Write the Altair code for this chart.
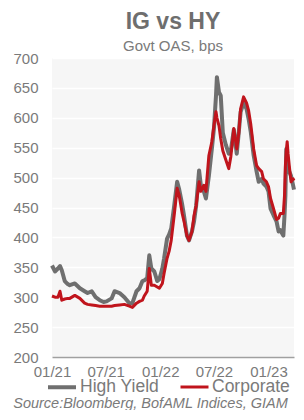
import altair as alt
import pandas as pd

dates = [
    "2021-01-01", "2021-01-11", "2021-01-21", "2021-01-28", "2021-02-03", "2021-02-13",
    "2021-02-23", "2021-03-02", "2021-03-19", "2021-04-05", "2021-04-21", "2021-05-01",
    "2021-05-15", "2021-05-28", "2021-06-11", "2021-06-24", "2021-07-04", "2021-07-21",
    "2021-07-31", "2021-08-17", "2021-09-02", "2021-09-19", "2021-09-29", "2021-10-13",
    "2021-10-23", "2021-11-02", "2021-11-08", "2021-11-18", "2021-11-25", "2021-12-02",
    "2021-12-12", "2021-12-22", "2021-12-29", "2022-01-08", "2022-01-14", "2022-01-24",
    "2022-01-31", "2022-02-07", "2022-02-17", "2022-02-27", "2022-03-06", "2022-03-16",
    "2022-03-22", "2022-04-01", "2022-04-08", "2022-04-18", "2022-04-25", "2022-05-02",
    "2022-05-12", "2022-05-18", "2022-05-28", "2022-06-04", "2022-06-14", "2022-06-24",
    "2022-07-01", "2022-07-08", "2022-07-11", "2022-07-18", "2022-07-24", "2022-07-31",
    "2022-08-10", "2022-08-20", "2022-08-27", "2022-09-06", "2022-09-16", "2022-09-23",
    "2022-09-29", "2022-10-09", "2022-10-19", "2022-10-26", "2022-11-02", "2022-11-12",
    "2022-11-22", "2022-11-29", "2022-12-09", "2022-12-15", "2022-12-25", "2023-01-01",
    "2023-01-08", "2023-01-18", "2023-01-28", "2023-02-04", "2023-02-10", "2023-02-20",
    "2023-02-24", "2023-02-27", "2023-03-02", "2023-03-05", "2023-03-08", "2023-03-12",
    "2023-03-18", "2023-03-25", "2023-03-28",
]

high_yield = [
    353, 343, 348, 352, 345, 327,
    322, 320, 323, 315, 310, 307,
    310, 300, 295, 292, 293, 298,
    310, 307, 300, 290, 290, 310,
    315, 327, 328, 332, 370, 348,
    343, 327, 330, 348, 365, 398,
    405, 415, 453, 493, 480, 455,
    437, 403, 395, 410, 427, 453,
    512, 487, 477, 465, 503, 548,
    582, 637, 668, 643, 637, 575,
    555, 540, 545, 580, 540, 577,
    610, 625, 615, 598, 577, 537,
    510, 493, 498, 490, 485, 477,
    448, 437, 427, 410, 412, 403,
    437, 470, 548, 530, 520, 510,
    503, 487, 480,
]

corporate = [
    302, 300, 300, 310, 295, 297,
    298, 298, 303, 298, 290, 288,
    287, 286, 285, 285, 285, 285,
    286, 287, 288, 285, 283, 290,
    293, 295, 302, 310, 348, 320,
    320, 317, 315, 323, 340, 365,
    377, 395, 437, 482, 470, 440,
    427, 403, 395, 410, 437, 453,
    493, 477, 487, 477, 537, 560,
    587, 610, 600, 587, 565, 545,
    530, 515, 535, 582, 548, 575,
    615, 635, 625, 612, 590, 548,
    520, 515, 510, 498, 493, 485,
    465, 448, 430, 432, 440, 440,
    470, 520, 545, 560, 540, 520,
    493, 498, 495,
]

series = ["High Yield", "Corporate"]
colors = ["#6f6f6f", "#c0141c"]

rows = []
for name, vals in zip(series, [high_yield, corporate]):
    for d, v in zip(dates, vals):
        rows.append({"date": d, "value": v, "series": name})
df = pd.DataFrame(rows)

text_grey = "#7a7a7a"
font = "Liberation Sans"

tick_dates = [
    alt.DateTime(year=2021, month=1, date=1, utc=True),
    alt.DateTime(year=2021, month=7, date=1, utc=True),
    alt.DateTime(year=2022, month=1, date=1, utc=True),
    alt.DateTime(year=2022, month=7, date=1, utc=True),
    alt.DateTime(year=2023, month=1, date=1, utc=True),
]

chart = alt.Chart(df).mark_line(strokeJoin="round").encode(
    x=alt.X(
        "date:T",
        scale=alt.Scale(
            type="utc",
            domain=[
                alt.DateTime(year=2021, month=1, date=1, utc=True),
                alt.DateTime(year=2023, month=3, date=28, utc=True),
            ],
            nice=False,
        ),
        axis=alt.Axis(
            values=tick_dates,
            labelExpr="utcFormat(datum.value, '%m/%y')",
            labelFlush=False,
            labelBound=False,
            grid=False,
            ticks=False,
            domain=True,
            domainColor="#a0a0a0",
            domainWidth=1.5,
            labelFontSize=15,
            labelColor=text_grey,
            labelFont=font,
            labelPadding=7,
            title="Source:Bloomberg, BofAML Indices, GIAM",
            titleFontStyle="italic",
            titleFontWeight="normal",
            titleFontSize=14.5,
            titleColor=text_grey,
            titleFont=font,
            titleX=98,
            titleY=50,
            titleAlign="center",
            titleBaseline="alphabetic",
            labelOverlap=False,
        ),
    ),
    y=alt.Y(
        "value:Q",
        scale=alt.Scale(domain=[200, 700], nice=False, zero=False),
        axis=alt.Axis(
            values=[200, 250, 300, 350, 400, 450, 500, 550, 600, 650, 700],
            grid=True,
            gridColor="#ffffff",
            gridWidth=1.5,
            domain=False,
            ticks=False,
            labelFontSize=15,
            labelColor=text_grey,
            labelFont=font,
            labelPadding=14,
            title=None,
        ),
    ),
    color=alt.Color(
        "series:N",
        scale=alt.Scale(domain=series, range=colors),
        sort=series,
        legend=alt.Legend(
            title=None,
            orient="none",
            legendX=-6,
            legendY=313,
            padding=0,
            direction="horizontal",
            symbolType="stroke",
            symbolSize=784,
            symbolStrokeWidth=4,
            labelFontSize=17.5,
            labelColor=text_grey,
            labelFont=font,
            labelOffset=2,
            columnPadding=14,
        ),
    ),
    strokeWidth=alt.StrokeWidth(
        "series:N", scale=alt.Scale(domain=series, range=[4, 3]), legend=None
    ),
    order=alt.Order("series_order:Q"),
).transform_calculate(
    series_order="datum.series == 'High Yield' ? 0 : 1"
).properties(
    width=288,
    height=402,
    autosize=alt.AutoSizeParams(type="fit", contains="padding"),
    padding={"left": 4, "top": 3, "right": 0, "bottom": 0},
    title=alt.TitleParams(
        text="IG vs HY",
        subtitle="Govt OAS, bps",
        fontSize=23,
        fontWeight="bold",
        font=font,
        color="#6e6e6e",
        subtitleFontSize=15,
        subtitleFont=font,
        subtitleColor=text_grey,
        subtitlePadding=5,
        anchor="middle",
        frame="group",
        offset=-6,
        dy=-3,
    ),
).configure_view(
    fill="#f6f6f6", stroke=None
)

chart.save("out.html", embed_options={"renderer": "svg", "actions": False})
